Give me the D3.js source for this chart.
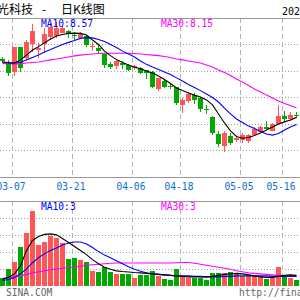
<!DOCTYPE html>
<html>
<head>
<meta charset="utf-8">
<script src="https://cdn.jsdelivr.net/npm/d3@7/dist/d3.min.js"></script>
<style>
body { margin: 0; background: #fff; }
svg { display: block; }
</style>
</head>
<body>
<div id="chart"></div>
<script>
// trading days, 2022
const dates = ['03-03','03-04','03-07','03-08','03-09','03-10','03-11','03-14','03-15','03-16',
  '03-17','03-18','03-21','03-22','03-23','03-24','03-25','03-28','03-29','03-30',
  '03-31','04-01','04-06','04-07','04-08','04-11','04-12','04-13','04-14','04-15',
  '04-18','04-19','04-20','04-21','04-22','04-25','04-26','04-27','04-28','04-29',
  '05-05','05-06','05-09','05-10','05-11','05-12','05-13','05-16','05-17','05-18'];
const tickDates = ['03-07','03-21','04-06','04-18','05-05','05-16'];

const open = [10.47,10.33,9.96,10.89,10.49,11.02,10.81,11.02,11.28,11.32,11.47,11.51,11.36,11.26,11.32,10.91,10.86,10.66,10.26,10.20,
  10.31,10.23,10.09,10.13,10.02,9.97,9.30,9.63,9.45,9.40,8.75,8.87,9.09,8.99,8.55,8.26,7.62,7.17,7.55,7.41,
  7.40,7.35,7.60,7.71,7.90,7.75,8.00,8.30,8.18,8.35];
const close = [10.38,9.92,10.91,10.08,11.09,11.51,10.87,11.40,11.66,11.62,11.64,11.40,11.32,11.40,10.98,10.94,10.73,10.23,10.16,10.38,
  10.25,10.06,10.18,9.94,9.91,9.42,9.72,9.41,9.42,8.78,8.92,9.13,8.89,8.57,8.51,7.67,7.26,7.67,7.28,7.49,
  7.57,7.58,7.82,7.90,7.81,8.00,8.31,8.18,8.34,8.31];
const high = [10.53,10.40,10.92,10.92,11.17,11.79,11.04,11.62,11.81,11.85,11.70,11.55,11.47,11.49,11.36,11.11,10.98,10.68,10.35,10.40,
  10.38,10.25,10.23,10.15,10.04,10.00,9.75,9.66,9.54,9.41,8.98,9.19,9.17,9.03,8.70,8.32,7.74,7.72,7.66,7.55,
  7.66,7.64,7.87,7.92,8.13,8.02,8.72,8.49,8.44,8.44];
const low = [10.32,9.81,9.81,9.96,10.42,10.72,10.49,10.68,11.17,11.25,11.43,11.25,11.17,11.25,10.91,10.74,10.67,10.12,10.08,10.08,
  10.09,10.00,10.04,9.88,9.69,9.36,9.25,9.36,9.32,8.70,8.43,8.79,8.77,8.47,8.39,7.58,7.13,6.94,7.19,7.31,
  7.29,7.30,7.57,7.66,7.77,7.72,7.96,8.06,8.11,8.21];

const ma5 = [10.34,10.30,10.30,10.42,10.60,10.79,10.92,11.06,11.21,11.32,11.38,11.42,11.43,11.42,11.36,11.17,11.00,10.75,10.58,10.43,
  10.32,10.23,10.15,10.08,10.00,9.92,9.81,9.68,9.53,9.36,9.26,9.17,9.09,9.02,8.91,8.72,8.38,8.04,7.74,7.53,
  7.46,7.49,7.57,7.66,7.77,7.89,8.00,8.08,8.15,8.25];
const ma10 = [10.34,10.32,10.30,10.32,10.42,10.51,10.60,10.72,10.81,10.91,11.00,11.08,11.15,11.23,11.26,11.25,11.19,11.11,11.00,10.89,
  10.75,10.64,10.53,10.38,10.25,10.15,10.06,9.96,9.87,9.74,9.62,9.49,9.38,9.26,9.13,9.00,8.83,8.60,8.38,8.19,
  8.06,7.92,7.83,7.72,7.62,7.58,7.64,7.77,7.89,7.98];
const ma30 = [10.28,10.28,10.26,10.28,10.30,10.32,10.34,10.38,10.42,10.45,10.49,10.53,10.57,10.60,10.62,10.64,10.66,10.67,10.67,10.67,
  10.67,10.67,10.66,10.64,10.62,10.60,10.58,10.55,10.51,10.45,10.42,10.38,10.34,10.30,10.23,10.15,10.04,9.94,9.83,9.70,
  9.58,9.45,9.32,9.21,9.09,8.98,8.87,8.77,8.70,8.60];

const volume = [2.29,5.06,7.14,11.61,15.68,22.02,12.20,12.89,14.67,14.08,12.59,7.83,8.12,7.74,6.93,4.46,4.17,5.65,4.26,3.66,
  3.66,3.48,2.38,3.27,3.27,4.46,2.98,1.99,1.79,5.06,2.77,2.47,2.29,2.29,1.79,3.96,3.96,3.96,4.17,3.96,
  2.98,3.27,2.98,2.98,2.17,2.29,5.65,2.98,2.47,1.79];
const vma5 = [1.99,2.53,3.57,5.95,10.42,13.39,14.58,15.18,15.33,15.03,13.99,12.80,11.61,10.42,9.23,7.74,6.55,5.51,4.91,4.46,
  4.26,4.11,3.96,3.87,3.72,3.57,3.42,3.27,3.13,2.98,2.83,2.68,2.68,2.68,2.68,2.83,3.13,3.42,3.57,3.72,
  3.57,3.27,2.98,2.68,2.53,2.53,2.83,3.13,3.27,3.13];
const vma10 = [1.64,1.93,2.53,3.57,5.06,6.85,8.33,9.52,10.42,11.16,12.05,12.65,12.95,12.95,12.35,11.31,10.12,9.08,8.33,7.44,
  6.55,5.65,4.91,4.32,3.87,3.57,3.42,3.27,3.13,2.98,2.98,2.98,2.83,2.83,2.68,2.68,2.68,2.83,2.83,2.98,
  2.98,2.98,2.98,2.98,2.98,2.83,2.83,2.83,2.83,2.83];
const vma30 = [2.23,2.38,2.68,2.98,3.42,3.87,4.17,4.46,4.76,4.97,5.21,5.36,5.51,5.80,6.10,6.25,6.40,6.55,6.70,6.76,
  6.76,6.76,6.76,6.76,6.76,6.76,6.76,6.76,6.76,6.85,6.93,6.93,6.70,6.40,6.10,5.80,5.51,5.21,4.91,4.46,
  4.17,3.87,3.72,3.57,3.42,3.27,3.13,2.98,2.92,2.83];

const priceTicks = [7, 8, 9, 10, 11];
const volTicks = [5, 10, 15, 20];

const width = 300, height = 300;
const priceTop = 18, priceBottom = 177;
const volTop = 201, volBottom = 286;
const red = '#ff5555', green = '#00a800';
const mono = '"DejaVu Sans Mono", monospace';
const cjk = '"Noto Sans CJK SC", sans-serif';

const svg = d3.select('#chart').append('svg')
    .attr('width', width)
    .attr('height', height)
    .style('background', '#fff');

const x = d3.scaleBand().domain(dates).range([0, 300]);
const y = d3.scaleLinear().domain([6, 12]).range([priceBottom, priceTop]);
const yVol = d3.scaleLinear().domain([0, 25]).range([volBottom, volTop]);

const candles = dates.map((d, i) => ({
    date: d, open: open[i], close: close[i], high: high[i], low: low[i], vol: volume[i],
    up: close[i] >= open[i]
}));

// grid
const grid = svg.append('g').attr('shape-rendering', 'crispEdges');
grid.selectAll('.hp').data(priceTicks).enter().append('line')
    .attr('x1', 0).attr('x2', width)
    .attr('y1', d => Math.floor(y(d)) + 0.5).attr('y2', d => Math.floor(y(d)) + 0.5)
    .attr('stroke', '#a0a0a0').attr('stroke-dasharray', '1,2');
grid.selectAll('.hv').data(volTicks).enter().append('line')
    .attr('x1', 0).attr('x2', width)
    .attr('y1', d => Math.floor(yVol(d)) + 0.5).attr('y2', d => Math.floor(yVol(d)) + 0.5)
    .attr('stroke', '#a0a0a0').attr('stroke-dasharray', '1,2');
[[priceTop, priceBottom], [volTop, volBottom]].forEach(([t, b]) => {
    grid.selectAll(null).data(tickDates).enter().append('line')
        .attr('x1', d => x(d) + 0.5).attr('x2', d => x(d) + 0.5)
        .attr('y1', t).attr('y2', b)
        .attr('stroke', '#b4b4b4').attr('stroke-dasharray', '5,3');
});
grid.selectAll('.solid').data([priceTop, priceBottom, volTop]).enter().append('line')
    .attr('x1', 0).attr('x2', width)
    .attr('y1', d => d + 0.5).attr('y2', d => d + 0.5)
    .attr('stroke', '#999');

// candles
const cg = svg.append('g').attr('shape-rendering', 'crispEdges');
cg.selectAll('.wick').data(candles).enter().append('line')
    .attr('x1', d => x(d.date) + 2.5).attr('x2', d => x(d.date) + 2.5)
    .attr('y1', d => Math.round(y(d.high))).attr('y2', d => Math.round(y(d.low)))
    .attr('stroke', d => d.up ? red : green);
cg.selectAll('.body').data(candles).enter().append('rect')
    .attr('x', d => x(d.date))
    .attr('width', 5)
    .attr('y', d => Math.round(y(Math.max(d.open, d.close))))
    .attr('height', d => Math.max(1, Math.round(Math.abs(y(d.open) - y(d.close)))))
    .attr('fill', d => d.up ? red : green);

// volume bars
cg.selectAll('.vol').data(candles).enter().append('rect')
    .attr('x', d => x(d.date))
    .attr('width', 5)
    .attr('y', d => Math.round(yVol(d.vol)))
    .attr('height', d => volBottom - Math.round(yVol(d.vol)))
    .attr('fill', d => d.up ? red : green);

// moving averages
const line = d3.line().x((d, i) => x(dates[i]) + 2.5).y(d => y(d));
const vline = d3.line().x((d, i) => x(dates[i]) + 2.5).y(d => yVol(d));
[[ma30, '#ff00ff'], [ma10, '#0000ff'], [ma5, '#000000']].forEach(([s, c]) => {
    svg.append('path').attr('d', line(s)).attr('fill', 'none').attr('stroke', c).attr('stroke-width', 1.1);
});
[[vma30, '#ff00ff'], [vma10, '#0000ff'], [vma5, '#000000']].forEach(([s, c]) => {
    svg.append('path').attr('d', vline(s)).attr('fill', 'none').attr('stroke', c).attr('stroke-width', 1.1);
});

// date labels
svg.selectAll('.dl').data(tickDates).enter().append('text')
    .attr('x', d => x(d) - 1).attr('y', 190)
    .attr('text-anchor', 'middle')
    .attr('font-family', mono).attr('font-size', 9.6)
    .attr('fill', '#1070c8')
    .text(d => d);

// title (left part of the name is cut off at the edge)
svg.append('text').attr('x', -3).attr('y', 14)
    .attr('font-family', cjk).attr('font-size', 12).text('光科技');
svg.append('text').attr('x', 42).attr('y', 14)
    .attr('font-family', cjk).attr('font-size', 12).text('-');
svg.append('text').attr('x', 61).attr('y', 14)
    .attr('font-family', cjk).attr('font-size', 12).text('日K线图');
svg.append('text').attr('x', 282).attr('y', 15)
    .attr('font-family', mono).attr('font-size', 10).text('2022-05-18');

const label = (t, xx, yy, c) => svg.append('text').attr('x', xx).attr('y', yy)
    .attr('font-family', mono).attr('font-size', 9.6).attr('fill', c).text(t);
label('MA10:8.57', 41, 27, '#0000ff');
label('MA30:8.15', 161, 27, '#ff00ff');
label('MA10:3', 41, 210, '#0000ff');
label('MA30:3', 161, 210, '#ff00ff');
label('SINA.COM', 6, 296, '#666');
label('http://finance.sina.com.cn', 239, 296, '#666');
</script>
</body>
</html>
